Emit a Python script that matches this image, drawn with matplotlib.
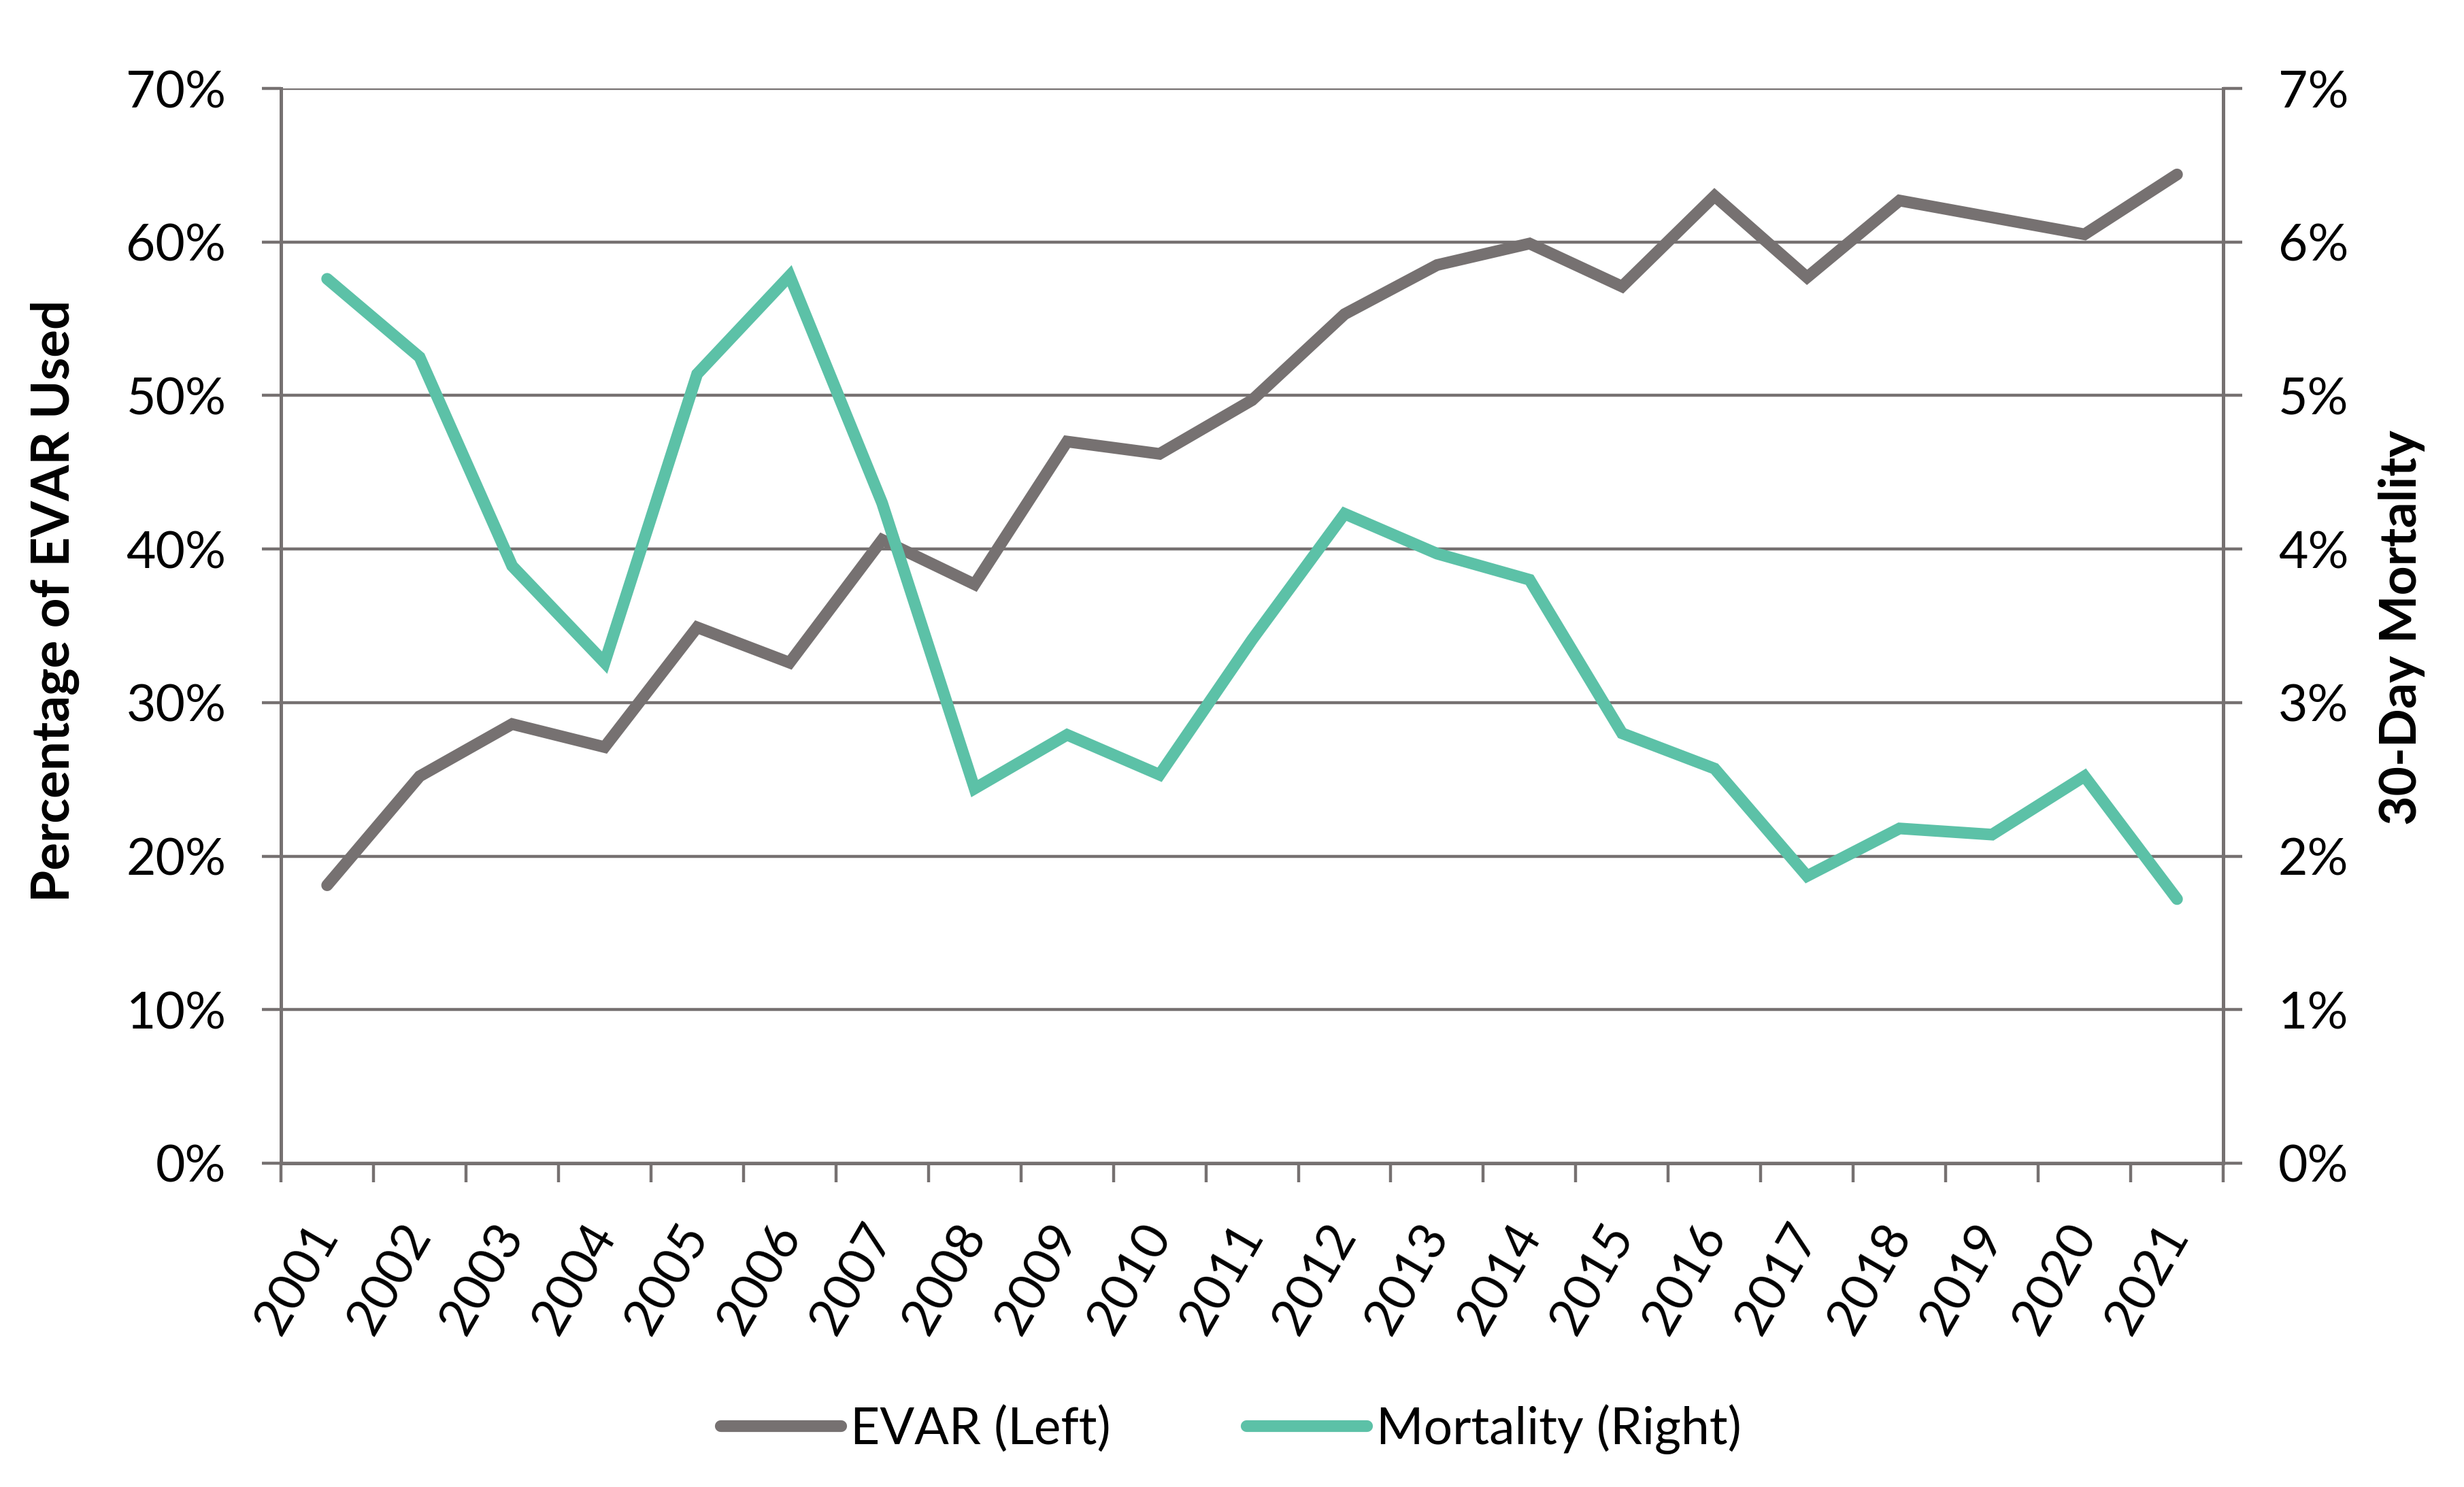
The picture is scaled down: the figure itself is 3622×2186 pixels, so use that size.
## EVAR use vs 30-day mortality, 2001-2021
import matplotlib
matplotlib.use("Agg")
import matplotlib.pyplot as plt
from matplotlib.ticker import PercentFormatter, FixedLocator

plt.rcParams['font.family'] = ['Lato', 'DejaVu Sans']

# Data
years = ['2001', '2002', '2003', '2004', '2005', '2006', '2007', '2008', '2009', '2010', '2011',
         '2012', '2013', '2014', '2015', '2016', '2017', '2018', '2019', '2020', '2021']
evar_pct = [18.1, 25.2, 28.6, 27.1, 34.9, 32.6, 40.6, 37.7, 47.0, 46.2, 49.7,
            55.3, 58.5, 59.9, 57.1, 63.0, 57.7, 62.7, 61.6, 60.5, 64.4]
mortality_pct = [5.76, 5.25, 3.89, 3.26, 5.14, 5.78, 4.30, 2.44, 2.79, 2.53, 3.41,
                 4.23, 3.97, 3.80, 2.80, 2.57, 1.87, 2.18, 2.14, 2.52, 1.72]

GRAY = '#767171'
TEAL = '#5CC1A7'

fig = plt.figure(figsize=(18.11, 10.93), dpi=200)
ax = fig.add_axes([0.114, 0.2178, 0.9023 - 0.114, 0.9405 - 0.2178])
ax2 = ax.twinx()

x = list(range(len(years)))
l1, = ax.plot(x, evar_pct, color=GRAY, lw=6.2, solid_capstyle='round',
              solid_joinstyle='miter', label='EVAR (Left)')
l2, = ax2.plot(x, mortality_pct, color=TEAL, lw=6.2, solid_capstyle='round',
               solid_joinstyle='miter', label='Mortality (Right)')

# Left axis
ax.set_xlim(-0.5, len(years) - 0.5)
ax.set_ylim(0, 70)
ax.set_yticks(range(0, 71, 10))
ax.yaxis.set_major_formatter(PercentFormatter(decimals=0))
ax.grid(axis='y', color=GRAY, lw=1.6)
ax.set_axisbelow(True)

# Right axis
ax2.set_ylim(0, 7)
ax2.set_yticks(range(0, 8))
ax2.yaxis.set_major_formatter(PercentFormatter(decimals=0))

for a in (ax, ax2):
    a.spines['top'].set_visible(False)
    for s in ('left', 'right', 'bottom'):
        a.spines[s].set_color(GRAY)
        a.spines[s].set_linewidth(1.8)
    a.tick_params(axis='y', direction='out', length=10, width=1.6, color=GRAY,
                  labelsize=27, pad=19)

# Category labels at centres, tick marks at boundaries
ax.set_xticks(x)
ax.set_xticklabels(years, rotation=60, ha='right', rotation_mode='anchor', va='center')
ax.tick_params(axis='x', which='major', length=0, labelsize=27, pad=34)
ax.xaxis.set_minor_locator(FixedLocator([i - 0.5 for i in range(len(years) + 1)]))
ax.tick_params(axis='x', which='minor', direction='out', length=10, width=1.6, color=GRAY)

# Axis titles
fig.text(0.0224, 0.596, 'Percentage of EVAR Used', rotation=90, ha='center', va='center',
         fontsize=27.5, fontweight='bold')
fig.text(0.9746, 0.578, '30-Day Mortality', rotation=90, ha='center', va='center',
         fontsize=27, fontweight='bold')

fig.legend(handles=[l1, l2], loc='center', bbox_to_anchor=(0.4995, 0.039), ncol=2,
           frameon=False, fontsize=27, handlelength=2.36, handletextpad=0.19,
           columnspacing=2.65)

fig.savefig('out.png', dpi=200)
